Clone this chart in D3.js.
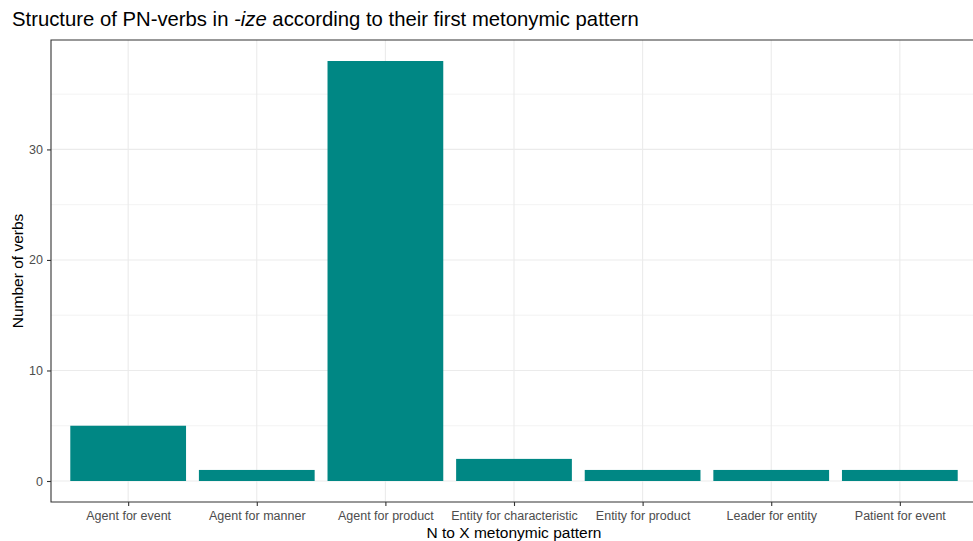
<!DOCTYPE html>
<html><head><meta charset="utf-8">
<script src="https://cdn.jsdelivr.net/npm/d3@7"></script>
<style>html,body{margin:0;background:#fff;overflow:hidden;}svg{display:block;font-family:"Liberation Sans",Arial,sans-serif;}</style>
</head><body>
<svg id="c" width="973" height="541"></svg>
<script>
const categories = ["Agent for event","Agent for manner","Agent for product","Entity for characteristic","Entity for product","Leader for entity","Patient for event"];
const counts = [5,1,38,2,1,1,1];
const yTicks = [0,10,20,30];
const yMinor = [5,15,25,35];

const svg = d3.select("#c");
const m = {left:51, right:977, top:40, bottom:502};
const step = (m.right-m.left)/(categories.length-1+1.2);
const x = d3.scalePoint().domain(categories).range([m.left+0.6*step, m.right-0.6*step]);
const bw = 0.9*step;
const maxV = d3.max(counts);
const y = d3.scaleLinear().domain([-0.05*maxV, maxV*1.05]).range([m.bottom, m.top]);

// grid
const g = svg.append("g");
g.selectAll(".minor").data(yMinor).join("line")
  .attr("x1",m.left).attr("x2",m.right).attr("y1",d=>y(d)).attr("y2",d=>y(d))
  .attr("stroke","#EBEBEB").attr("stroke-width",0.6);
g.selectAll(".major").data(yTicks).join("line")
  .attr("x1",m.left).attr("x2",m.right).attr("y1",d=>y(d)).attr("y2",d=>y(d))
  .attr("stroke","#EBEBEB").attr("stroke-width",1.1);
g.selectAll(".vmajor").data(categories).join("line")
  .attr("x1",d=>x(d)).attr("x2",d=>x(d)).attr("y1",m.top).attr("y2",m.bottom)
  .attr("stroke","#EBEBEB").attr("stroke-width",1.1);

// bars
svg.append("g").selectAll("rect").data(categories).join("rect")
  .attr("x",(d)=>x(d)-bw/2).attr("width",bw)
  .attr("y",(d,i)=>y(counts[i])).attr("height",(d,i)=>y(0)-y(counts[i]))
  .attr("fill","#008784");

// border (right side lies beyond the canvas)
svg.append("path")
  .attr("d",`M${m.right},${m.top}H${m.left}V${m.bottom}H${m.right}`)
  .attr("fill","none").attr("stroke","#333333").attr("stroke-width",1.1);

// axes
const ax = svg.append("g").attr("transform",`translate(0,${m.bottom})`)
  .call(d3.axisBottom(x).tickSize(4).tickPadding(5));
const ay = svg.append("g").attr("transform",`translate(${m.left},0)`)
  .call(d3.axisLeft(y).tickValues(yTicks).tickSize(4).tickPadding(4));
[ax,ay].forEach(a=>{
  a.select(".domain").remove();
  a.selectAll(".tick line").attr("stroke","#333333").attr("stroke-width",1.1);
  a.selectAll(".tick text").attr("fill","#4D4D4D").style("font-size","12.5px").style("font-family","Liberation Sans, Arial, sans-serif");
});

// titles
const t = svg.append("text").attr("x",12).attr("y",26).attr("fill","#000").style("font-size","20.3px");
t.append("tspan").text("Structure of PN-verbs in ");
t.append("tspan").attr("font-style","italic").text("-ize");
t.append("tspan").text(" according to their first metonymic pattern");

svg.append("text").attr("x",(m.left+m.right)/2).attr("y",538).attr("text-anchor","middle")
  .style("font-size","15.5px").attr("fill","#000").text("N to X metonymic pattern");
svg.append("text").attr("transform",`translate(23,${(m.top+m.bottom)/2}) rotate(-90)`).attr("text-anchor","middle")
  .style("font-size","15.5px").attr("fill","#000").text("Number of verbs");
</script>
</body></html>
